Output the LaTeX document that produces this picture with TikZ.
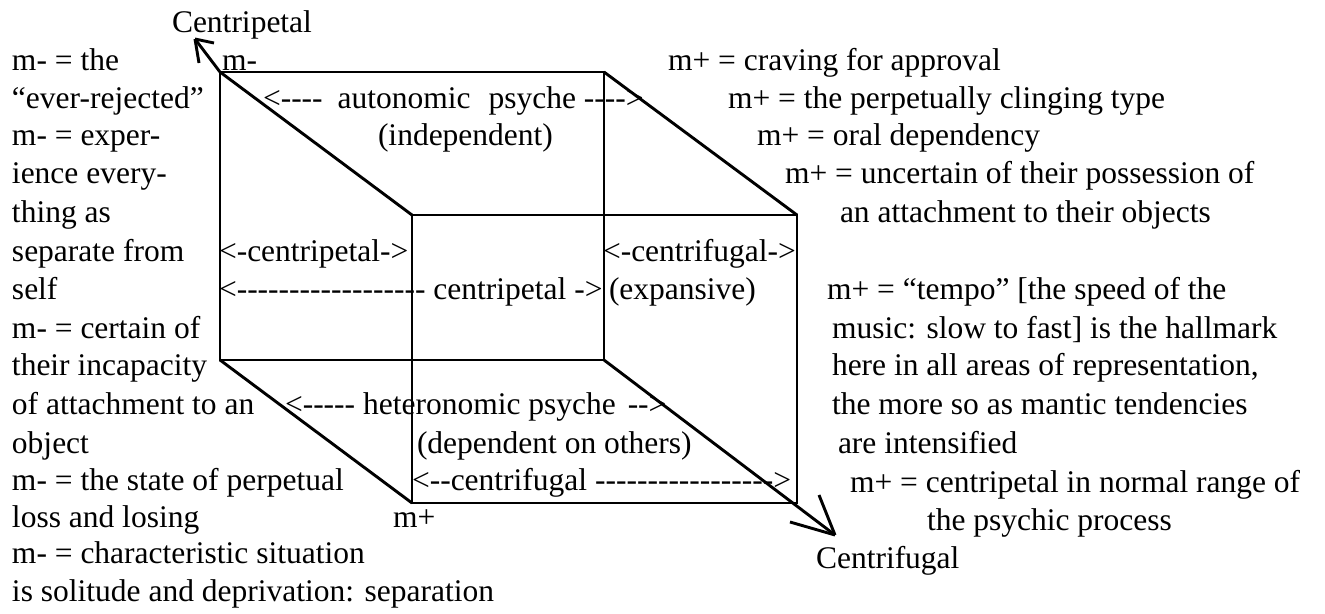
\documentclass[tikz,border=0pt]{standalone}
\usepackage{fontspec}
\setmainfont{Liberation Serif}[Ligatures=TeXOff]
\begin{document}
\begin{tikzpicture}[x=1pt,y=-1pt,
  txt/.style={anchor=base west, inner sep=0pt, outer sep=0pt, font=\fontsize{31.5}{37.9}\selectfont},
  edge/.style={line width=2.9pt, line join=miter, black}]
\useasboundingbox (0,0) rectangle (1325,613);
% cube corners
\coordinate (B1) at (220,72);
\coordinate (B2) at (604,72);
\coordinate (B3) at (604,360);
\coordinate (B4) at (220,360);
\coordinate (F1) at (412,215);
\coordinate (F2) at (797,215);
\coordinate (F3) at (797,503);
\coordinate (F4) at (412,503);
\coordinate (tipA) at (195,39);
\coordinate (barbA1) at (214,43);
\coordinate (barbA2) at (199,63);
\coordinate (tipB) at (835,535);
\coordinate (barbB1) at (790,522);
\coordinate (barbB2) at (819,495);
\draw[edge] (B1) rectangle (B3);
\draw[edge] (F1) rectangle (F3);
\draw[edge] (F1) -- (B1) -- (tipA);
\draw[edge] (tipA) -- (barbA1);
\draw[edge] (tipA) -- (barbA2);
\draw[edge] (B2) -- (F2);
\draw[edge] (B4) -- (F4);
\draw[edge] (B3) -- (tipB);
\draw[edge] (tipB) -- (barbB1);
\draw[edge] (tipB) -- (barbB2);
% left column
\node[txt] (cpt) at (172,32) {Centripetal};
\node[txt] (l1) at (12,70) {m- = the};
\node[txt] (l2) at (12,108) {“ever-rejected”};
\node[txt] (l3) at (12,145) {m- = exper-};
\node[txt] (l4) at (12,183) {ience every-};
\node[txt] (l5) at (12,222) {thing as};
\node[txt] (l6) at (12,261) {separate from};
\node[txt] (l7) at (12,299) {self};
\node[txt] (l8) at (12,338) {m- = certain of};
\node[txt] (l9) at (12,375) {their incapacity};
\node[txt] (l10) at (12,414) {of attachment to an};
\node[txt] (l11) at (12,453) {object};
\node[txt] (l12) at (12,490) {m- = the state of perpetual};
\node[txt] (l13) at (12,527) {loss and losing};
\node[txt] (l14) at (12,563) {m- = characteristic situation};
\node[txt] (l15) at (12,601) {is solitude and deprivation: separation};
% cube labels
\node[txt] (mminus) at (222,70) {m-};
\node[txt] (auto) at (263,108) {<----\hspace{15pt}autonomic\hspace{10pt} psyche ---->};
\node[txt] (indep) at (378,145) {(independent)};
\node[txt] (cp1) at (219,261) {<-centripetal->};
\node[txt] (cf1) at (603,261) {<-centrifugal->};
\node[txt] (cp2) at (219,299) {<------------------ centripetal ->};
\node[txt] (exp) at (609,299) {(expansive)};
\node[txt] (hetero) at (285,414) {<----- heteronomic psyche\hspace{4pt} -->};
\node[txt] (dep) at (417,453) {(dependent on others)};
\node[txt] (cf2) at (412,490) {<--centrifugal ----------------->};
\node[txt] (mplus) at (393,527) {m+};
% right column
\node[txt] (r1) at (668,70) {m+ = craving for approval};
\node[txt] (r2) at (728,108) {m+ = the perpetually clinging type};
\node[txt] (r3) at (757,145) {m+ = oral dependency};
\node[txt] (r4) at (785,183) {m+ = uncertain of their possession of};
\node[txt] (r5) at (840,222) {an attachment to their objects};
\node[txt] (r7) at (827,299) {m+ = “tempo” [the speed of the};
\node[txt] (r8) at (832,338) {music: slow to fast] is the hallmark};
\node[txt] (r9) at (832,375) {here in all areas of representation,};
\node[txt] (r10) at (832,414) {the more so as mantic tendencies};
\node[txt] (r11) at (838,453) {are intensified};
\node[txt] (r12) at (850,492) {m+ = centripetal in normal range of};
\node[txt] (r13) at (927,530) {the psychic process};
\node[txt] (cfg) at (816,568) {Centrifugal};
\end{tikzpicture}
\end{document}
